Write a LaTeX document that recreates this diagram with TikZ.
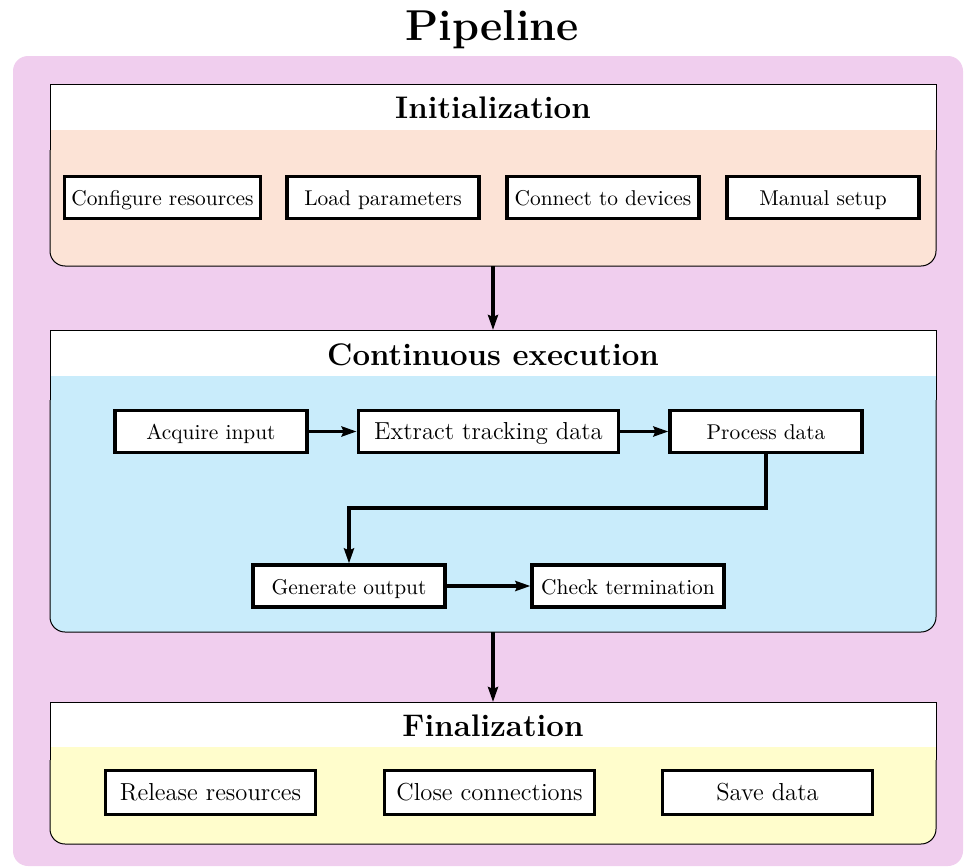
\documentclass[tikz,border=0pt]{standalone}
\usetikzlibrary{arrows.meta}
\definecolor{pinkbg}{RGB}{240,206,238}
\definecolor{peachbg}{RGB}{252,227,214}
\definecolor{bluebg}{RGB}{201,236,251}
\definecolor{yellowbg}{RGB}{255,253,204}
\tikzset{
  stepbox/.style={draw=black, fill=white, line width=1.6pt, minimum width=96pt, minimum height=21pt, inner xsep=3.5pt, inner ysep=2pt, text height=10pt, text depth=2pt, font=\fontsize{10.7}{12.5}\selectfont},
  bigbox/.style={stepbox, minimum width=105pt, minimum height=22pt, text height=10.5pt, text depth=2.5pt, font=\fontsize{12.3}{14.5}\selectfont},
  arr/.style={line width=1.6pt, -{Stealth[length=7.5pt,width=5pt,inset=1pt]}},
  header/.style={font=\fontsize{15.6}{18.5}\selectfont\bfseries},
  frame/.style={line width=0.5pt}
}
\begin{document}
\begin{tikzpicture}[x=0.5pt,y=-0.5pt]
\useasboundingbox (0,0) rectangle (965,867);
% outer background
\fill[pinkbg, rounded corners=7.5pt] (13,56) rectangle (963,866);
\node[font=\fontsize{21.6}{26}\selectfont\bfseries] (title) at (492,30) {Pipeline};

% ---------- Initialization section
\fill[peachbg, rounded corners=7.5pt] (50,84) rectangle (936,266);
\fill[peachbg] (50,84) rectangle (936,150);
\fill[white] (50,84) rectangle (936,130);
\draw[frame, rounded corners=7.5pt] (50,150) -- (50,266) -- (936,266) -- (936,150);
\draw[frame] (50,150) -- (50,84) -- (936,84) -- (936,150);
\node[header] (hinit) at (493,108) {Initialization};
\node[stepbox] (conf) at (162.5,197.5) {Configure resources};
\node[stepbox] (load) at (383,197.5) {Load parameters};
\node[stepbox] (conn) at (603,197.5) {Connect to devices};
\node[stepbox] (man) at (823,197.5) {Manual setup};

% ---------- Continuous execution section
\fill[bluebg, rounded corners=7.5pt] (50,330) rectangle (936,632);
\fill[bluebg] (50,330) rectangle (936,400);
\fill[white] (50,330) rectangle (936,376);
\draw[frame, rounded corners=7.5pt] (50,400) -- (50,632) -- (936,632) -- (936,400);
\draw[frame] (50,400) -- (50,330) -- (936,330) -- (936,400);
\node[header] (hcont) at (493,355) {Continuous execution};
\node[stepbox, font=\fontsize{12.3}{14.5}\selectfont, text height=10.5pt, text depth=2.5pt, inner xsep=8pt] (ext) at (488.5,431.5) {Extract tracking data};
\node[stepbox] (acq) at (211,431.5) {Acquire input};
\node[stepbox] (proc) at (766,431.5) {Process data};
\node[stepbox] (gen) at (349,586) {Generate output};
\node[stepbox] (chk) at (628,586) {Check termination};
\coordinate (bend) at (349,508);
\draw[arr] (acq) -- (ext);
\draw[arr] (ext) -- (proc);
\draw[arr] (proc.south) |- (bend) -- (gen.north);
\draw[arr] (gen) -- (chk);

% ---------- Finalization section
\fill[yellowbg, rounded corners=7.5pt] (50,702) rectangle (936,844);
\fill[yellowbg] (50,702) rectangle (936,760);
\fill[white] (50,702) rectangle (936,747);
\draw[frame, rounded corners=7.5pt] (50,760) -- (50,844) -- (936,844) -- (936,760);
\draw[frame] (50,760) -- (50,702) -- (936,702) -- (936,760);
\node[header] (hfin) at (493,726) {Finalization};
\node[bigbox] (rel) at (210.5,792.5) {Release resources};
\node[bigbox] (close) at (489.5,792.5) {Close connections};
\node[bigbox] (save) at (767.5,792.5) {Save data};

% ---------- section connectors
\coordinate (initB) at (493,266);
\coordinate (contT) at (493,330);
\coordinate (contB) at (493,632);
\coordinate (finT) at (493,702);
\draw[arr] (initB) -- (contT);
\draw[arr] (contB) -- (finT);
\end{tikzpicture}
\end{document}
